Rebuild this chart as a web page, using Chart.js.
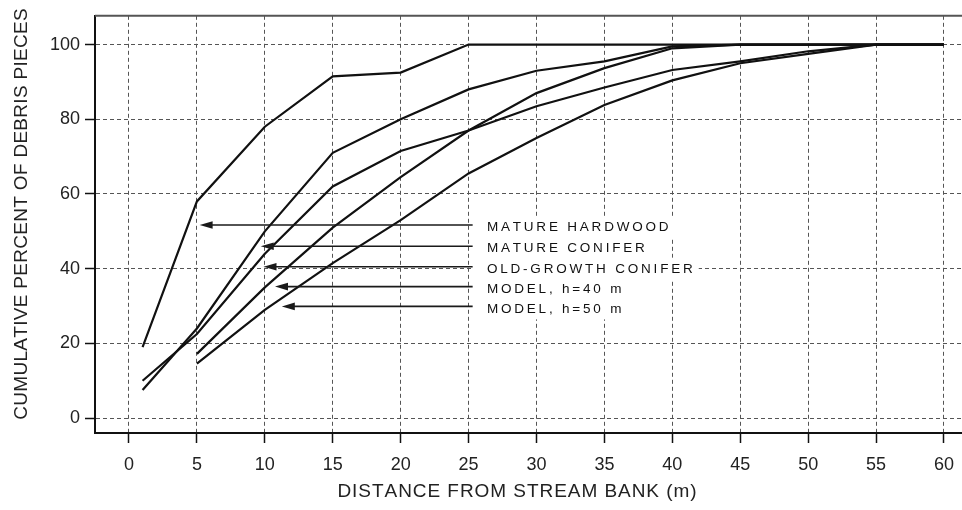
<!DOCTYPE html>
<html><head><meta charset="utf-8">
<script src="https://cdn.jsdelivr.net/npm/chart.js@4.4.1/dist/chart.umd.min.js"></script>
<style>html,body{margin:0;padding:0;background:#fff;overflow:hidden;width:962px;height:510px}canvas{display:block}</style>
</head><body>
<canvas id="c" width="985" height="510"></canvas>
<script>
// ---- data ----
const distances        = [1, 5, 10, 15, 20, 25, 30, 35, 40, 45, 50, 55, 60];
const matureHardwood   = [19, 58, 78, 91.5, 92.5, 100, 100, 100, 100, 100, 100, 100, 100];
const matureConifer    = [7.5, 24, 50, 71, 80, 88, 93, 95.5, 99.5, 100, 100, 100, 100];
const oldGrowthConifer = [10, 22.5, 44, 62, 71.5, 77, 83.5, 88.5, 93.2, 95.5, 98.2, 100, 100];
const modelH40         = [null, 17.2, 35, 51, 64.5, 77, 87, 93.7, 99, 100, 100, 100, 100];
const modelH50         = [null, 14.6, 29, 41.5, 53, 65.5, 75, 83.8, 90.4, 95, 97.5, 100, 100];
const seriesNames = ['MATURE HARDWOOD', 'MATURE CONIFER', 'OLD-GROWTH CONIFER', 'MODEL, h=40 m', 'MODEL, h=50 m'];
const xTickValues = [0, 5, 10, 15, 20, 25, 30, 35, 40, 45, 50, 55, 60];
const yTickValues = [0, 20, 40, 60, 80, 100];
const xTitle = 'DISTANCE FROM STREAM BANK (m)';
const yTitle = 'CUMULATIVE PERCENT OF DEBRIS PIECES';

// annotation arrows (tip positions in data units)
const arrowTipX = [5.2, 9.7, 9.9, 10.75, 11.25];
const arrowTipY = [51.7, 46.0, 40.5, 35.2, 29.9];
const arrowTailX = 25.3;
const labelStartX = 26.35;

const FONT = '"Liberation Sans", Arial, Helvetica, sans-serif';
const allSeries = [matureHardwood, matureConifer, oldGrowthConifer, modelH40, modelH50];

function spacedWidth(ctx, text, sp) {
  let w = 0; for (const ch of text) w += ctx.measureText(ch).width + sp; return w - sp;
}
function spacedText(ctx, text, x, y, sp) {
  let cx = x; for (const ch of text) { ctx.fillText(ch, cx, y); cx += ctx.measureText(ch).width + sp; } return cx - sp;
}
const LABEL_FONT = '13.5px ' + FONT;
const LABEL_SP = 2.8;

const annotPlugin = {
  id: 'annot',
  beforeDatasetsDraw(chart) {
    const ctx = chart.ctx, xs = chart.scales.x, ys = chart.scales.y;
    ctx.save();
    ctx.font = LABEL_FONT;
    ctx.fillStyle = '#fff';
    seriesNames.forEach((name, i) => {
      const y = ys.getPixelForValue(arrowTipY[i]) + 2;
      const x0 = xs.getPixelForValue(arrowTailX);
      const w = spacedWidth(ctx, name, LABEL_SP);
      const x1 = xs.getPixelForValue(labelStartX) + w + 6;
      ctx.fillRect(x0, y - 11, x1 - x0, 22);
    });
    ctx.restore();
  },
  afterDatasetsDraw(chart) {
    const ctx = chart.ctx, xs = chart.scales.x, ys = chart.scales.y;
    ctx.save();
    ctx.strokeStyle = '#1a1a1a'; ctx.fillStyle = '#1a1a1a'; ctx.lineWidth = 1.6;
    seriesNames.forEach((name, i) => {
      const ty = ys.getPixelForValue(arrowTipY[i]);
      const tx = xs.getPixelForValue(arrowTipX[i]);
      const ex = xs.getPixelForValue(arrowTailX);
      ctx.beginPath(); ctx.moveTo(tx + 8, ty); ctx.lineTo(ex, ty); ctx.stroke();
      ctx.beginPath(); ctx.moveTo(tx, ty); ctx.lineTo(tx + 13, ty - 3.8); ctx.lineTo(tx + 13, ty + 3.8); ctx.closePath(); ctx.fill();
      ctx.font = LABEL_FONT; ctx.textBaseline = 'middle'; ctx.textAlign = 'left';
      ctx.fillStyle = '#111';
      spacedText(ctx, name, xs.getPixelForValue(labelStartX), ty + 2.5, LABEL_SP);
      ctx.fillStyle = '#1a1a1a';
    });
    ctx.restore();
  },
  afterDraw(chart) {
    const ctx = chart.ctx, ca = chart.chartArea;
    ctx.save();
    // top frame line
    ctx.strokeStyle = '#555'; ctx.lineWidth = 2;
    ctx.beginPath(); ctx.moveTo(ca.left, ca.top); ctx.lineTo(ca.right, ca.top); ctx.stroke();
    // axis titles
    ctx.fillStyle = '#222'; ctx.font = '19px ' + FONT; ctx.textBaseline = 'middle'; ctx.textAlign = 'left';
    const xw = spacedWidth(ctx, xTitle, 0.95);
    spacedText(ctx, xTitle, 517 - xw / 2, 492, 0.95);
    ctx.translate(22, 214); ctx.rotate(-Math.PI / 2);
    const yw = spacedWidth(ctx, yTitle, 0.3);
    spacedText(ctx, yTitle, -yw / 2, 0, 0.3);
    ctx.restore();
  }
};

const gridCommon = { color: '#555', lineWidth: 1, tickLength: 10, tickColor: '#111', tickWidth: 1.5, drawTicks: true };
const borderCommon = { color: '#111', width: 2, dash: [4, 3] };

new Chart(document.getElementById('c'), {
  type: 'line',
  data: {
    datasets: allSeries.map((vals, i) => ({
      label: seriesNames[i],
      data: distances.map((d, j) => ({ x: d, y: vals[j] })),
      borderColor: '#111', borderWidth: 2.2, pointRadius: 0, tension: 0, fill: false, spanGaps: false
    }))
  },
  options: {
    responsive: false, animation: false,
    layout: { padding: { left: 0, top: 13, right: 0, bottom: 0 } },
    plugins: { legend: { display: false }, tooltip: { enabled: false } },
    scales: {
      x: {
        type: 'linear', min: -2.503, max: 63.02,
        afterBuildTicks: s => { s.ticks = xTickValues.map(v => ({ value: v })); },
        afterFit: s => { s.height = 77; },
        grid: gridCommon, border: borderCommon,
        ticks: { color: '#222', padding: 11, font: { size: 18, family: FONT }, maxRotation: 0, autoSkip: false, callback: v => String(v) }
      },
      y: {
        type: 'linear', min: -3.99, max: 107.7,
        afterBuildTicks: s => { s.ticks = yTickValues.map(v => ({ value: v })); },
        afterFit: s => { s.width = 95; },
        grid: gridCommon, border: borderCommon,
        ticks: { color: '#222', padding: 5, font: { size: 18, family: FONT }, autoSkip: false, callback: v => String(v) }
      }
    }
  },
  plugins: [annotPlugin]
});
</script>
</body></html>
